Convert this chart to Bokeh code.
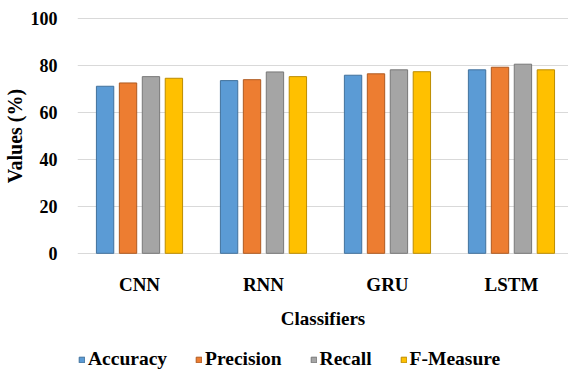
from bokeh.plotting import figure
from bokeh.layouts import column
from bokeh.models import (Range1d, FixedTicker, Legend, LegendItem)
from bokeh.embed import file_html
from bokeh.resources import INLINE

# Classifier scores (%)
classifiers = ["CNN", "RNN", "GRU", "LSTM"]
accuracy = [71.2, 73.6, 75.9, 78.2]
precision = [72.6, 74.0, 76.5, 79.3]
recall = [75.3, 77.3, 78.2, 80.6]
f_measure = [74.6, 75.3, 77.4, 78.2]

series_names = ["Accuracy", "Precision", "Recall", "F-Measure"]
series_values = [accuracy, precision, recall, f_measure]
fill_colors = ["#5B9BD5", "#ED7D31", "#A5A5A5", "#FFC000"]
edge_colors = ["#41719C", "#AE5A21", "#787878", "#BC8C00"]
y_ticks = [0, 20, 40, 60, 80, 100]

FONT = "Liberation Serif"

# ---- main bar chart ----
p = figure(width=568, height=337, output_backend="svg", toolbar_location=None,
           x_range=Range1d(0, 3.96), y_range=Range1d(-0.5, 100.5),
           min_border_left=77, min_border_right=0,
           min_border_top=17, min_border_bottom=83)
p.outline_line_color = None
p.background_fill_color = "white"
p.border_fill_color = "white"

centers = [i + 0.5 for i in range(len(classifiers))]
offsets = [-0.2775, -0.0925, 0.0925, 0.2775]
bar_w = 0.14

for vals, fc, ec, off in zip(series_values, fill_colors, edge_colors, offsets):
    p.vbar(x=[c + off for c in centers], top=vals, bottom=0, width=bar_w,
           fill_color=fc, line_color=ec, line_width=1)

# grid
p.xgrid.grid_line_color = None
p.ygrid.grid_line_color = "#D9D9D9"
p.ygrid.grid_line_width = 1
p.ygrid.ticker = FixedTicker(ticks=y_ticks)

# y axis
p.yaxis.ticker = FixedTicker(ticks=y_ticks)
p.yaxis.axis_line_color = None
p.yaxis.major_tick_line_color = None
p.yaxis.minor_tick_line_color = None
p.yaxis.major_label_standoff = 14
p.yaxis.major_label_text_font = FONT
p.yaxis.major_label_text_font_style = "bold"
p.yaxis.major_label_text_font_size = "18px"
p.yaxis.major_label_text_color = "#000000"
p.yaxis.axis_label = "Values (%)"
p.yaxis.axis_label_text_font = FONT
p.yaxis.axis_label_text_font_style = "bold"
p.yaxis.axis_label_text_font_size = "20px"
p.yaxis.axis_label_text_color = "#000000"
p.yaxis.axis_label_standoff = 2

# x axis
p.xaxis.ticker = FixedTicker(ticks=centers)
p.xaxis.major_label_overrides = {c: name for c, name in zip(centers, classifiers)}
p.xaxis.axis_line_color = None
p.xaxis.major_tick_line_color = None
p.xaxis.minor_tick_line_color = None
p.xaxis.major_label_standoff = 13
p.xaxis.major_label_text_font = FONT
p.xaxis.major_label_text_font_style = "bold"
p.xaxis.major_label_text_font_size = "19px"
p.xaxis.major_label_text_color = "#000000"
p.xaxis.axis_label = "Classifiers"
p.xaxis.axis_label_text_font = FONT
p.xaxis.axis_label_text_font_style = "bold"
p.xaxis.axis_label_text_font_size = "19px"
p.xaxis.axis_label_text_color = "#000000"
p.xaxis.axis_label_standoff = 10

# ---- legend strip under the chart ----
leg = figure(width=568, height=36, output_backend="svg", toolbar_location=None,
             x_range=Range1d(0, 1), y_range=Range1d(0, 1),
             x_axis_type=None, y_axis_type=None,
             min_border_left=77, min_border_right=0,
             min_border_top=0, min_border_bottom=0)
leg.outline_line_color = None
leg.xgrid.grid_line_color = None
leg.ygrid.grid_line_color = None

# swatch renderers sit outside the visible range; only their legend glyphs show
swatches = []
for name, fc, ec in zip(series_names, fill_colors, edge_colors):
    r = leg.vbar(x=[-5], top=[0], bottom=[0], width=0.01,
                 fill_color=fc, line_color=ec, line_width=1)
    swatches.append(LegendItem(label=name, renderers=[r]))

legend = Legend(items=swatches, orientation="horizontal", location=(1, 3),
                glyph_width=7, glyph_height=7, label_standoff=3, spacing=28,
                padding=0, margin=0, border_line_color=None,
                background_fill_alpha=0,
                label_text_font=FONT, label_text_font_style="bold",
                label_text_font_size="19.5px", label_text_color="#000000")
leg.add_layout(legend, "center")

layout = column(p, leg, spacing=0)
open("out.html", "w").write(file_html(layout, INLINE))
